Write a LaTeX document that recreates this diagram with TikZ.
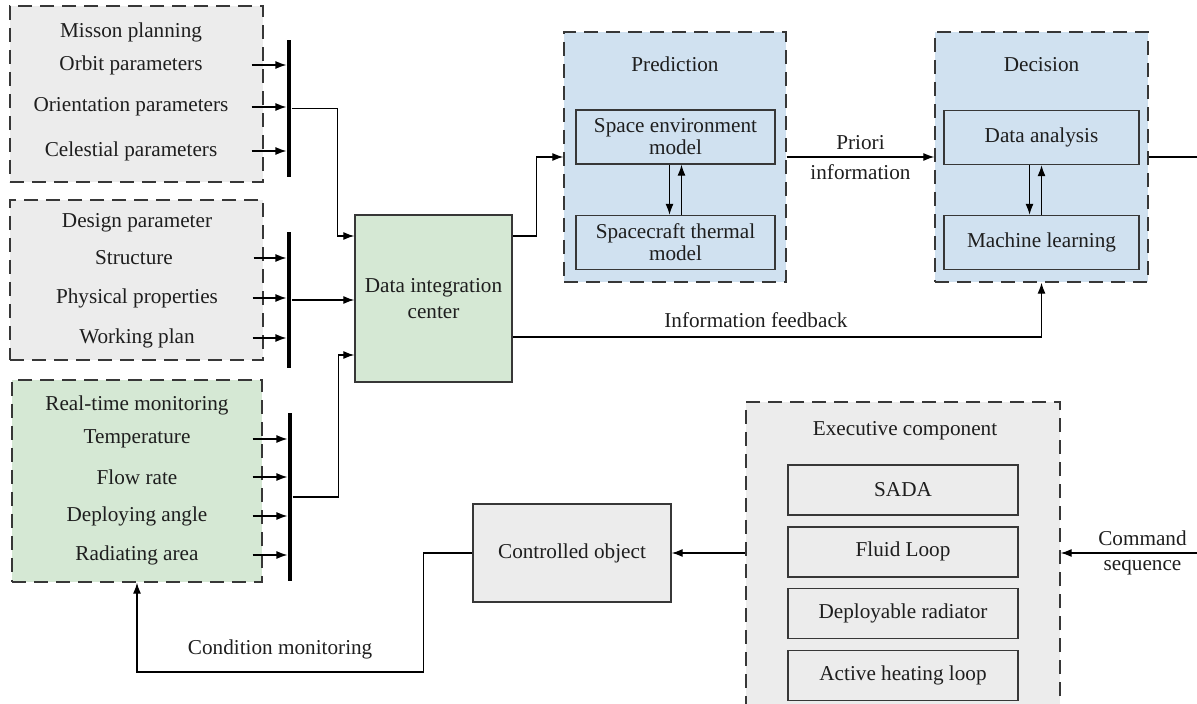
\documentclass[tikz,border=0pt]{standalone}
\usepackage{fontspec}
\setmainfont{Liberation Serif}
\usepackage{xcolor}
\definecolor{boxgray}{RGB}{236,236,236}
\definecolor{boxgreen}{RGB}{213,232,212}
\definecolor{boxblue}{RGB}{208,225,240}
\definecolor{edgegray}{RGB}{55,55,55}
\definecolor{inkgray}{RGB}{30,30,30}
\usetikzlibrary{positioning}
\usetikzlibrary{arrows.meta}

\begin{document}
\begin{tikzpicture}[x=0.5pt,y=-0.5pt,
      font=\fontsize{10.6}{12.7}\selectfont,text=inkgray,line width=0.6pt,
      >={Latex[length=5.5pt,width=4pt]},
      group style/.style={rectangle,draw=edgegray,line width=0.7pt,dash
        pattern=on 7pt off 4pt,inner sep=0pt},
      block style/.style={rectangle,draw=edgegray,line width=0.7pt,align=center,inner sep=0pt},
      model style/.style={block style,minimum width=99.5pt,minimum
        height=27pt,font=\fontsize{10.6}{11}\selectfont},
      part style/.style={block style,minimum width=115pt,minimum height=25pt},
      item style/.style={inner sep=0pt,minimum width=115pt,minimum height=12pt},
      bar style/.style={rectangle,fill=black,inner sep=0pt,minimum width=2pt}
      ]
      \useasboundingbox (0,0) rectangle (1197,704);

      % input groups
      \node[group style,fill=boxgray,minimum width=126.5pt,minimum height=88pt] (mp) at (136.5,94) {};
      \node at (131,32) (mptitle) {Misson planning};
      \node[item style,minimum width=120pt] (orb) at (131,65) {Orbit parameters};
      \node[item style,minimum width=120pt] (ori) at (131,107) {Orientation parameters};
      \node[item style,minimum width=120pt] (cel) at (131,151) {Celestial parameters};
      \node[bar style,minimum height=68.5pt] (bar1) at (289,108.5) {};
      \draw[->] (orb.east) -- (orb.east -| bar1.west);
      \draw[->] (ori.east) -- (ori.east -| bar1.west);
      \draw[->] (cel.east) -- (cel.east -| bar1.west);

      \node[group style,fill=boxgray,minimum width=126.5pt,minimum height=80pt] (dp) at (136.5,280) {};
      \node at (137,223) (dptitle) {Design parameter};
      \node[item style,minimum width=119pt] (str) at (134,258) {Structure};
      \node[item style] (phy) at (137,298) {Physical properties};
      \node[item style] (wrk) at (137,338) {Working plan};
      \node[bar style,minimum height=68pt] (bar2) at (289,300) {};
      \draw[->] (str.east) -- (str.east -| bar2.west);
      \draw[->] (phy.east) -- (phy.east -| bar2.west);
      \draw[->] (wrk.east) -- (wrk.east -| bar2.west);

      \node[group style,fill=boxgreen,minimum width=125pt,minimum height=101pt] (rtm) at (137,481) {};
      \node at (137,405) (rtmtitle) {Real-time monitoring};
      \node[item style] (tmp) at (137,439) {Temperature};
      \node[item style] (flw) at (137,477) {Flow rate};
      \node[item style] (dep) at (137,516) {Deploying angle};
      \node[item style] (rad) at (137,555) {Radiating area};
      \node[bar style,minimum height=84pt] (bar3) at (290,497) {};
      \draw[->] (tmp.east) -- (tmp.east -| bar3.west);
      \draw[->] (flw.east) -- (flw.east -| bar3.west);
      \draw[->] (dep.east) -- (dep.east -| bar3.west);
      \draw[->] (rad.east) -- (rad.east -| bar3.west);

      % data integration
      \node[block style,fill=boxgreen,minimum width=78.5pt,minimum height=83.5pt] (dic) at (433.5,298.5) {Data integration\\center};
      \draw[->] (bar1.east) -- ++(46,0) |- ([yshift=31.25pt]dic.west);
      \draw[->] (bar2.east) -- (bar2.east -| dic.west);
      \draw[->] (bar3.east) -- ++(46,0) |- ([yshift=-28.25pt]dic.west);

      % prediction
      \node[group style,fill=boxblue,minimum width=111pt,minimum height=125pt] (pred) at (675,157) {};
      \node at (675,64) (predtitle) {Prediction};
      \node[model style] (sem) at (675.5,137) {Space environment\\model};
      \node[model style] (stm) at (675.5,242.5) {Spacecraft thermal\\model};
      \draw[->] ([xshift=-3pt]sem.south) -- ([xshift=-3pt]stm.north);
      \draw[->] ([xshift=3pt]stm.north) -- ([xshift=3pt]sem.south);
      \draw[->] ([yshift=31.25pt]dic.east) -- ++(24,0) |- (pred.west);

      % decision
      \node[group style,fill=boxblue,minimum width=106.5pt,minimum height=125pt] (dec) at (1041.5,157) {};
      \node at (1041.5,65) (dectitle) {Decision};
      \node[model style,minimum width=97.5pt] (da) at (1041.5,137.5) {Data analysis};
      \node[model style,minimum width=97.5pt] (ml) at (1041.5,242.5) {Machine learning};
      \draw[->] ([xshift=-6pt]da.south) -- ([xshift=-6pt]ml.north);
      \draw[->] (ml.north) -- (da.south);
      \draw[->] (pred.east) -- node[above] {Priori} node[below] {information} (dec.west);
      \coordinate (out) at (1197,157);
      \draw (dec.east) -- (out);
      \draw[->] ([yshift=-19.25pt]dic.east) -| node[pos=0.23,above=1pt] {Information feedback} (dec.south);

      % execution
      \node[group style,fill=boxgray,minimum width=157pt,minimum height=155pt] (exec) at (903,557) {};
      \node at (905,431) (exectitle) {Executive component};
      \node[part style] (sada) at (903,490) {SADA};
      \node[part style,below=5.2pt of sada] (fluid) {Fluid Loop};
      \node[part style,below=5.2pt of fluid] (deprad) {Deployable radiator};
      \node[part style,below=5.2pt of deprad] (heat) {Active heating loop};
      \coordinate (cmd) at (1197,553);
      \draw[->] (cmd) -- node[pos=0.4,above] {Command} node[pos=0.4,below] {sequence} (cmd -| exec.east);

      \node[block style,fill=boxgray,minimum width=99pt,minimum height=49pt] (co) at (572,553) {Controlled object};
      \draw[->] (co.east -| exec.west) -- (co.east);
      \draw[->] (co.west) -- ++(-49,0) -- ++(0,119) -| node[pos=0.25,above=3pt] {Condition monitoring} (rtm.south);
    \end{tikzpicture}
\end{document}
